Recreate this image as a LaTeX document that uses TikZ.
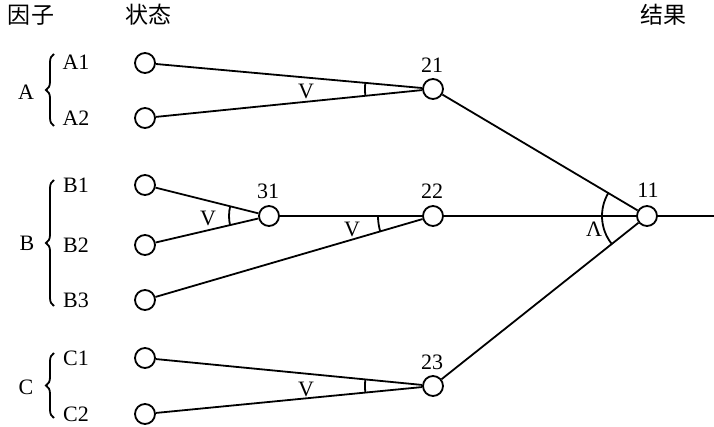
\documentclass[tikz,border=0pt]{standalone}
\usepackage{fontspec}
\setmainfont{Liberation Serif}
\newfontfamily\cjk{Noto Sans CJK SC}
\usetikzlibrary{angles,decorations.pathreplacing}
\begin{document}
\begin{tikzpicture}[x=1pt,y=-1pt,line width=1.8pt,
  st/.style={circle,draw,minimum size=20pt,inner sep=0pt,line width=1.8pt},
  lab/.style={font=\fontsize{22}{22}\selectfont,inner sep=0pt},
  head/.style={font=\cjk\fontsize{23}{23}\selectfont,inner sep=0pt},
  ang/.style={draw,line width=1.8pt},
  brc/.style={decorate,decoration={brace,amplitude=8pt},line width=1.8pt}]
\useasboundingbox (0,0) rectangle (714,427);
% headings
\node[head] (h1) at (31,15) {因子};
\node[head] (h2) at (148,15) {状态};
\node[head] (h3) at (663,15) {结果};
% states
\node[st] (a1) at (145,63) {};
\node[st] (a2) at (145,118) {};
\node[st] (b1) at (145,185) {};
\node[st] (b2) at (145,245) {};
\node[st] (b3) at (145,300) {};
\node[st] (c1) at (145,358) {};
\node[st] (c2) at (145,414) {};
% intermediate
\node[st] (n21) at (433,89) {};
\node[st] (n31) at (269,216) {};
\node[st] (n22) at (433,216) {};
\node[st] (n23) at (433,386) {};
\node[st] (n11) at (647,216) {};
\coordinate (out) at (714,216);
% numbers
\node[lab] (l21) at (432,65) {21};
\node[lab] (l31) at (268,191) {31};
\node[lab] (l22) at (432,191) {22};
\node[lab] (l23) at (432,362) {23};
\node[lab] (l11) at (648,190) {11};
% state labels
\node[lab] (ta1) at (76,62) {A1};
\node[lab] (ta2) at (76,118) {A2};
\node[lab] (tb1) at (76,185) {B1};
\node[lab] (tb2) at (76,245) {B2};
\node[lab] (tb3) at (76,300) {B3};
\node[lab] (tc1) at (76,358) {C1};
\node[lab] (tc2) at (76,414) {C2};
% factor labels
\node[lab] (fa) at (26,92) {A};
\node[lab] (fb) at (27,243) {B};
\node[lab] (fc) at (26,387) {C};
% braces
\draw[brc] (54,126) -- (54,54);
\draw[brc] (54,306) -- (54,180);
\draw[brc] (54,418) -- (54,353);
% connectors
\draw (a1) -- (n21);
\draw (a2) -- (n21);
\draw (b1) -- (n31);
\draw (b2) -- (n31);
\draw (n31) -- (n22);
\draw (b3) -- (n22);
\draw (c1) -- (n23);
\draw (c2) -- (n23);
\draw (n21) -- (n11);
\draw (n22) -- (n11);
\draw (n23) -- (n11);
\draw (n11) -- (out);
% angle arcs
\pic[ang,angle radius=68pt] {angle=a1--n21--a2};
\pic[ang,angle radius=40pt] {angle=b1--n31--b2};
\pic[ang,angle radius=55pt] {angle=n31--n22--b3};
\pic[ang,angle radius=68pt] {angle=c1--n23--c2};
\pic[ang,angle radius=45pt] {angle=n21--n11--n23};
% operator labels
\node[lab] (v1) at (306,91) {V};
\node[lab] (v2) at (208,218) {V};
\node[lab] (v3) at (352,229) {V};
\node[lab] (v4) at (306,389) {V};
\node[lab] (w1) at (594,229) {Λ};
\end{tikzpicture}
\end{document}
